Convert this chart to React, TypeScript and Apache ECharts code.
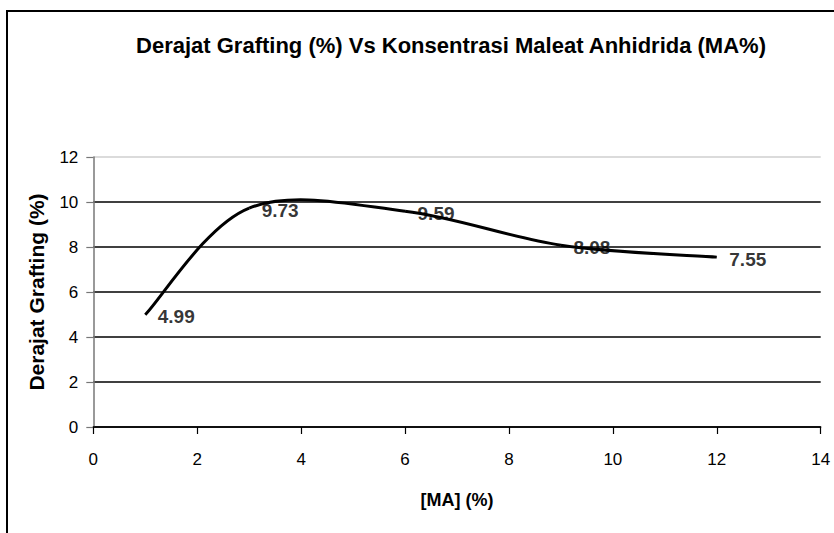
import React, { useEffect, useRef } from "react";
import * as echarts from "echarts";

const maConcentration = [1, 3, 6, 9, 12];
const graftingDegree = [4.99, 9.73, 9.59, 8.08, 7.55];
const titleText = "Derajat Grafting (%) Vs Konsentrasi Maleat Anhidrida (MA%)";
const xAxisName = "[MA] (%)";
const yAxisName = "Derajat Grafting (%)";

const FONT = '"Liberation Sans", Arial, sans-serif';

export default function App() {
  const ref = useRef<HTMLDivElement>(null);
  useEffect(() => {
    if (!ref.current) return;
    const chart = echarts.init(ref.current, undefined, { renderer: "svg" });
    const data = maConcentration.map((x, i) => [x, graftingDegree[i]]);
    const n = data.length;
    chart.setOption({
      animation: false,
      backgroundColor: "#ffffff",
      textStyle: { fontFamily: FONT },
      graphic: [
        {
          type: "rect",
          shape: { x: 7, y: 11, width: 900, height: 600 },
          style: { fill: "none", stroke: "#000", lineWidth: 2 },
          silent: true,
        },
        {
          type: "text",
          x: 451,
          y: 45,
          style: {
            text: titleText,
            font: `bold 22px ${FONT}`,
            fill: "#000",
            textAlign: "center",
            textVerticalAlign: "middle",
          },
        },
      ],
      grid: { left: 93.3, right: 13.3, top: 157, bottom: 106, containLabel: false },
      xAxis: {
        type: "value",
        min: 0,
        max: 14,
        interval: 2,
        name: xAxisName,
        nameLocation: "middle",
        nameGap: 64,
        nameTextStyle: { fontFamily: FONT, fontSize: 18, fontWeight: "bold", color: "#000" },
        axisLine: { show: true, lineStyle: { color: "#000", width: 1.5 } },
        axisTick: { show: true, length: 7, inside: false, lineStyle: { color: "#000", width: 1.2 } },
        axisLabel: { fontFamily: FONT, fontSize: 17, color: "#000", margin: 24 },
        splitLine: { show: false },
      },
      yAxis: {
        type: "value",
        min: 0,
        max: 12,
        interval: 2,
        name: yAxisName,
        nameLocation: "middle",
        nameGap: 46,
        nameRotate: 90,
        nameTextStyle: { fontFamily: FONT, fontSize: 21, fontWeight: "bold", color: "#000" },
        axisLine: { show: true, lineStyle: { color: "#777", width: 1.5 } },
        axisTick: { show: true, length: 7, lineStyle: { color: "#777", width: 1.2 } },
        axisLabel: { fontFamily: FONT, fontSize: 17, color: "#000", margin: 15 },
        splitLine: {
          show: true,
          lineStyle: {
            color: ["#000", "#000", "#000", "#000", "#000", "#000", "#cfcfcf"],
            width: 1.5,
          },
        },
      },
      series: [
        {
          type: "custom",
          data,
          renderItem: (params: any, api: any) => {
            const i = params.dataIndex;
            if (i >= n - 1) return null;
            const p = (k: number) => {
              const kk = Math.max(0, Math.min(n - 1, k));
              return api.coord(data[kk]);
            };
            const p0 = p(i - 1);
            const p1 = p(i);
            const p2 = p(i + 1);
            const p3 = p(i + 2);
            const t = 1 / 6;
            return {
              type: "bezierCurve",
              shape: {
                x1: p1[0],
                y1: p1[1],
                x2: p2[0],
                y2: p2[1],
                cpx1: p1[0] + (p2[0] - p0[0]) * t,
                cpy1: p1[1] + (p2[1] - p0[1]) * t,
                cpx2: p2[0] - (p3[0] - p1[0]) * t,
                cpy2: p2[1] - (p3[1] - p1[1]) * t,
              },
              style: { stroke: "#000", lineWidth: 3, fill: "none", lineCap: "butt" },
            };
          },
          silent: true,
          z: 3,
        },
        {
          type: "scatter",
          data,
          symbol: "circle",
          symbolSize: 1,
          itemStyle: { color: "rgba(0,0,0,0)" },
          silent: true,
          z: 4,
          label: {
            show: true,
            position: "right",
            distance: 12,
            offset: [0, 2],
            fontFamily: FONT,
            fontSize: 19,
            fontWeight: "bold",
            color: "#000",
            formatter: (p: any) => String(p.value[1]),
          },
        },
      ],
    });
    return () => chart.dispose();
  }, []);
  return (
    <div
      ref={ref}
      style={{ position: "fixed", left: 0, top: 0, width: 834, height: 533, background: "#fff" }}
    />
  );
}
